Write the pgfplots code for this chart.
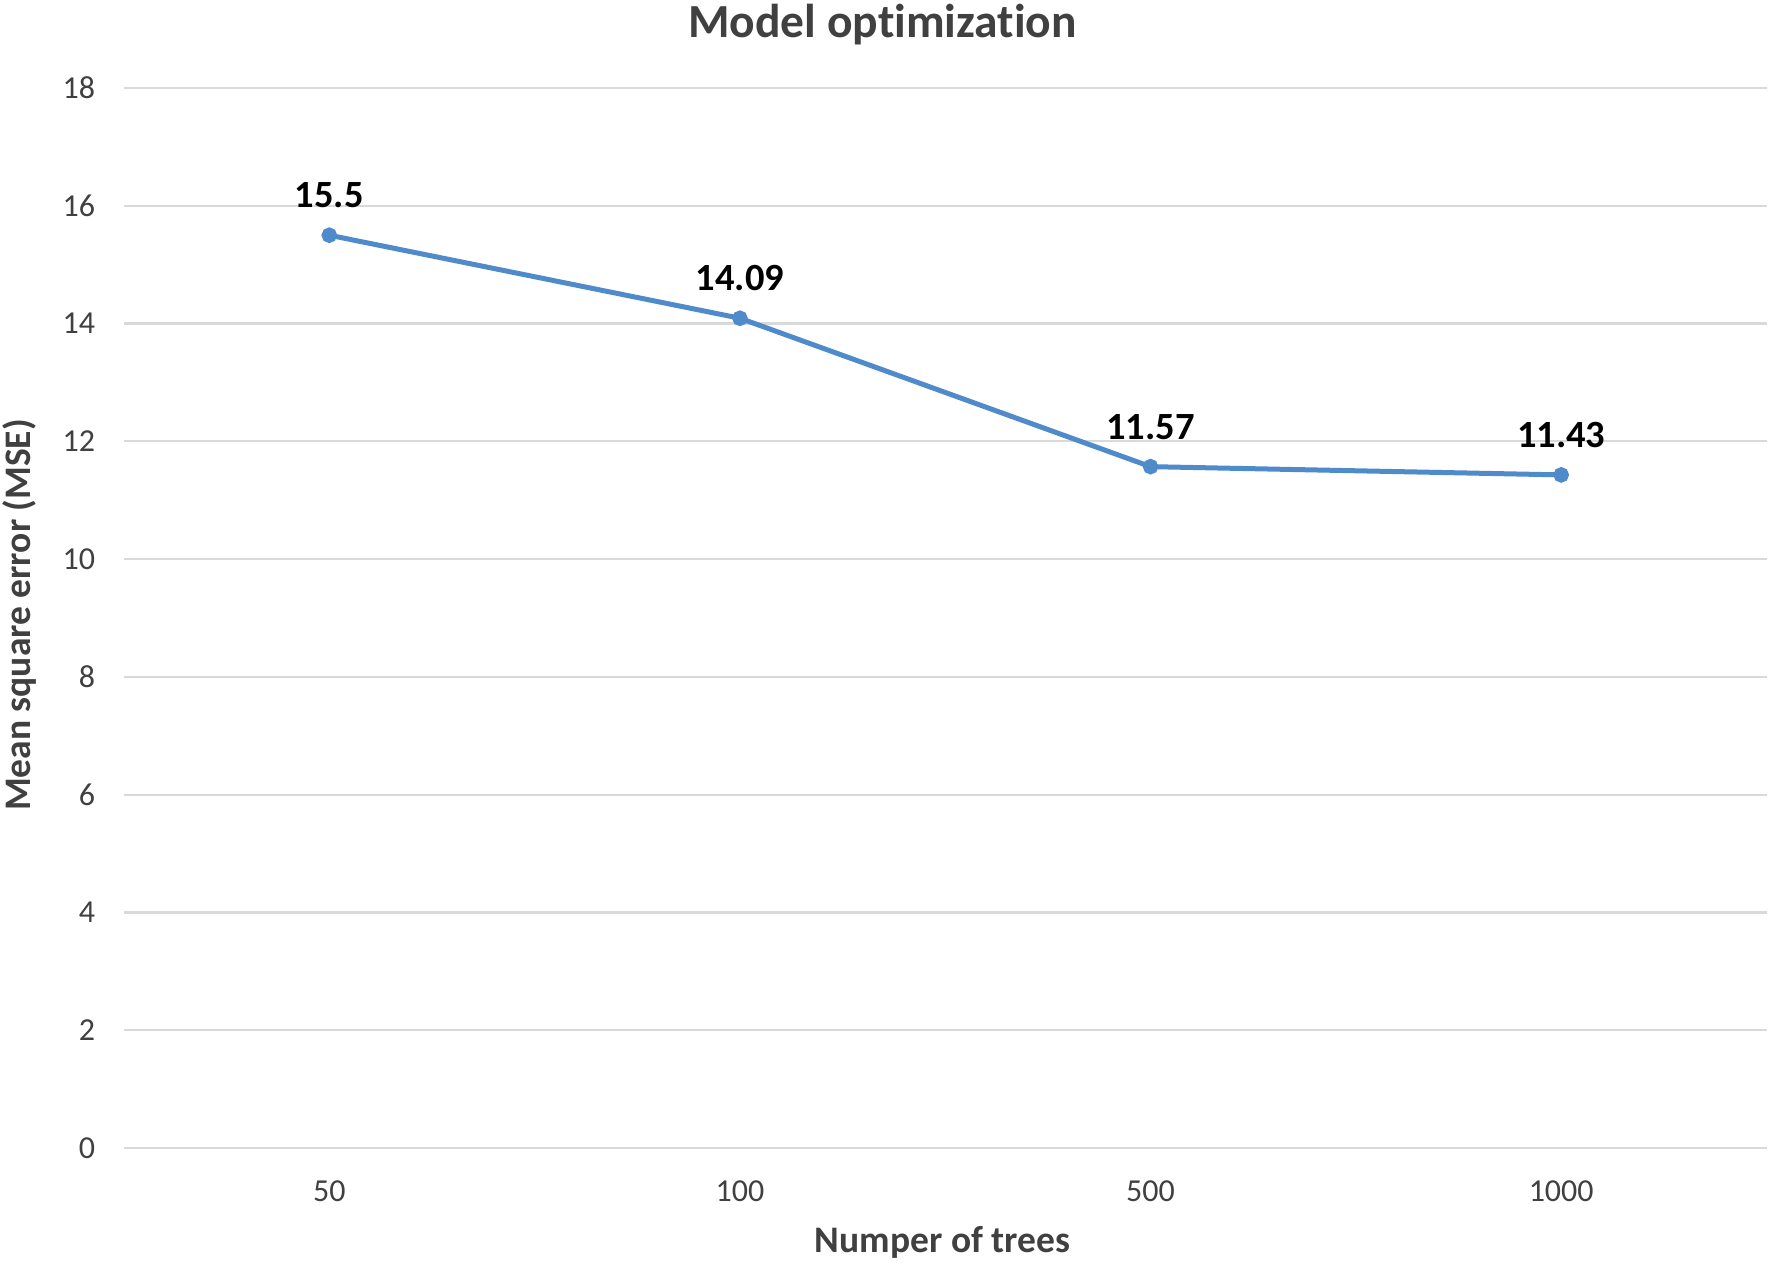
\documentclass[border=0pt]{standalone}
\usepackage{pgfplots}
\pgfplotsset{compat=1.18}
\usepackage{fontspec}
\setmainfont{Carlito}[Ligatures=NoCommon]
\definecolor{linec}{RGB}{79,138,203}
\definecolor{gridc}{RGB}{217,217,217}
\definecolor{txt}{RGB}{64,64,64}
\begin{document}
\begin{tikzpicture}
\useasboundingbox (0,0) rectangle (708pt,506pt);
\begin{axis}[
  at={(49.6pt,46.8pt)}, anchor=south west,
  scale only axis, width=657pt, height=424pt,
  xmin=-0.5, xmax=3.5, ymin=0, ymax=18,
  xtick={0,1,2,3}, xticklabels={50,100,500,1000},
  ytick={0,2,...,18},
  axis line style={draw=none},
  tick style={draw=none},
  ymajorgrids, grid style={gridc, line width=0.9pt},
  /pgf/number format/assume math mode=true,
  ticklabel style={font=\fontsize{12.8}{14}\selectfont, text=txt},
  yticklabel style={xshift=-8pt},
  xticklabel style={yshift=-9.5pt},
  clip=false,
  nodes near coords,
  point meta=explicit symbolic,
  every node near coord/.append style={font=\fontsize{15.4}{17}\selectfont\bfseries, text=black, anchor=center, yshift=16pt},
]
\addplot[color=linec, line width=2pt, mark=*, mark size=2.1pt, mark options={fill=linec, draw=linec}]
  coordinates {(0,15.5)[15.5] (1,14.09)[14.09] (2,11.57)[11.57] (3,11.43)[11.43]};
\end{axis}
\node[font=\fontsize{19}{21}\selectfont\bfseries, text=txt] at (353pt,496pt) {Model optimization};
\node[font=\fontsize{15}{17}\selectfont\bfseries, text=txt, rotate=90] at (8pt,260pt) {Mean square error (MSE)};
\node[font=\fontsize{15}{17}\selectfont\bfseries, text=txt] at (377pt,9.2pt) {Numper of trees};
\end{tikzpicture}
\end{document}
